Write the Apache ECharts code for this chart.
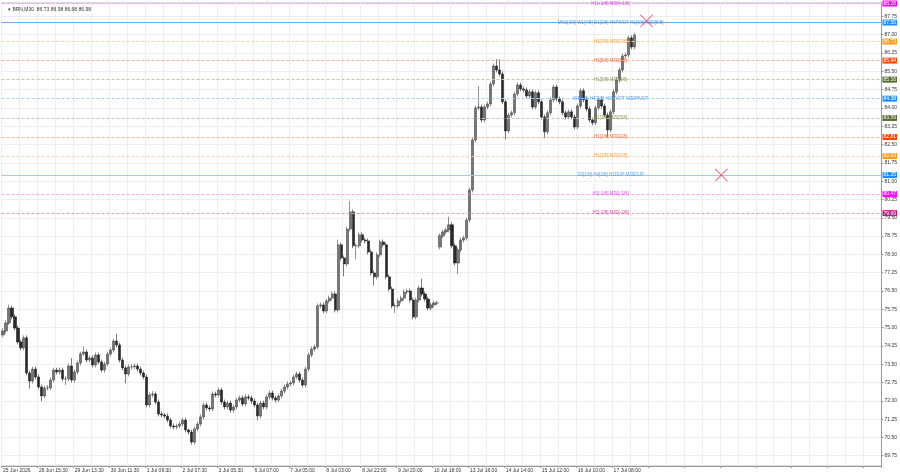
<!DOCTYPE html>
<html>
<head>
<meta charset="utf-8">
<script src="https://cdn.jsdelivr.net/npm/echarts@6/dist/echarts.min.js"></script>
<style>
  html, body { margin: 0; padding: 0; background: #fff; }
  #chart { width: 900px; height: 474px; }
</style>
</head>
<body>
<div id="chart"></div>
<script>
// BRN M30 - closes, highs, lows (about one value per 3 px)
const closes = [
  74.86, 75.19, 75.80, 75.44, 74.98, 74.41, 74.17, 74.58, 73.14, 72.81,
  73.30, 72.98, 72.57, 72.20, 72.53, 72.53, 72.85, 73.26, 73.18, 73.26,
  72.90, 72.90, 73.43, 72.85, 73.18, 73.55, 73.92, 74.00, 73.67, 73.76,
  73.47, 73.88, 73.59, 73.26, 73.51, 73.92, 74.08, 74.45, 74.29, 73.67,
  73.35, 73.10, 73.39, 73.39, 73.43, 73.30, 73.14, 72.98, 71.83, 72.24,
  72.28, 71.95, 71.46, 71.42, 71.38, 71.21, 70.97, 70.93, 70.97, 71.05,
  71.21, 70.81, 70.72, 70.31, 70.85, 71.05, 71.34, 71.83, 71.71, 71.67,
  72.28, 72.24, 72.44, 71.95, 71.75, 71.91, 71.62, 71.75, 72.03, 72.12,
  71.87, 72.16, 72.12, 71.99, 71.83, 71.38, 71.91, 71.75, 72.16, 72.32,
  72.12, 72.03, 72.20, 72.40, 72.57, 72.69, 72.73, 72.98, 73.10, 72.85,
  72.65, 73.30, 73.88, 74.12, 74.21, 75.89, 75.93, 75.68, 76.09, 76.21,
  76.38, 75.72, 78.39, 77.85, 77.61, 79.04, 79.74, 78.35, 78.35, 78.80,
  78.59, 78.55, 78.10, 77.24, 77.08, 77.98, 78.51, 78.39, 77.08, 76.58,
  75.89, 75.89, 76.09, 76.21, 76.46, 76.50, 76.13, 75.44, 76.13, 76.62,
  76.38, 76.17, 75.80, 75.93, 76.01, 76.01, 78.76, 78.92, 79.00, 79.21,
  78.35, 77.65, 78.18, 78.59, 78.67, 79.41, 80.64, 82.69, 84.00, 84.04,
  83.51, 84.04, 84.16, 84.98, 85.72, 85.56, 85.39, 84.25, 83.06, 83.71,
  83.80, 84.57, 84.94, 84.78, 84.74, 84.49, 84.66, 84.04, 84.62, 84.25,
  83.63, 83.02, 83.80, 84.33, 84.86, 84.37, 84.25, 83.80, 83.63, 83.84,
  83.63, 83.22, 84.08, 84.70, 84.33, 83.96, 83.51, 83.39, 84.00, 84.33,
  84.08, 83.71, 83.10, 83.84, 84.66, 85.15, 85.56, 86.13, 86.17, 86.87,
  86.50, 86.98
];
const highs = [
  74.98, 75.30, 75.95, 75.90, 75.54, 75.08, 74.51, 74.68, 74.68, 73.24,
  73.40, 73.40, 73.08, 72.67, 72.63, 72.65, 72.95, 73.36, 73.36, 73.36,
  73.36, 73.02, 73.53, 73.75, 73.28, 73.65, 74.02, 74.22, 74.10, 73.86,
  73.86, 73.98, 73.98, 73.69, 73.61, 74.02, 74.18, 74.55, 74.75, 74.39,
  73.77, 73.45, 73.49, 73.50, 73.53, 73.53, 73.40, 73.24, 73.08, 72.34,
  72.40, 72.38, 72.05, 71.56, 71.50, 71.48, 71.31, 71.07, 71.07, 71.15,
  71.31, 71.31, 70.85, 70.82, 70.95, 71.15, 71.44, 71.93, 71.93, 71.81,
  72.38, 72.38, 72.54, 72.54, 72.05, 72.01, 72.01, 71.85, 72.13, 72.22,
  72.22, 72.26, 72.26, 72.22, 72.09, 71.93, 72.01, 72.01, 72.26, 72.42,
  72.42, 72.22, 72.30, 72.50, 72.67, 72.79, 72.83, 73.08, 73.20, 73.20,
  72.95, 73.40, 73.98, 74.22, 74.31, 75.99, 76.03, 76.03, 76.19, 76.31,
  76.48, 76.48, 78.60, 78.49, 77.95, 79.14, 80.18, 79.84, 78.45, 78.90,
  78.90, 78.69, 78.65, 78.20, 77.34, 78.08, 78.61, 78.61, 78.49, 77.18,
  76.68, 75.99, 76.19, 76.31, 76.56, 76.60, 76.60, 76.23, 76.23, 76.72,
  77.00, 76.48, 76.27, 76.03, 76.11, 76.11, 78.86, 79.02, 79.10, 79.55,
  79.31, 78.45, 78.28, 78.69, 78.77, 79.51, 80.74, 82.79, 84.10, 84.90,
  84.14, 84.14, 84.26, 85.08, 85.82, 86.00, 86.00, 85.49, 84.35, 83.81,
  83.90, 84.67, 85.04, 85.04, 84.88, 84.84, 84.76, 84.76, 84.72, 84.72,
  84.35, 83.73, 83.90, 84.43, 84.96, 84.96, 84.47, 84.35, 83.90, 83.94,
  83.94, 83.73, 84.18, 84.80, 84.80, 84.43, 84.06, 83.61, 84.10, 84.43,
  84.43, 84.18, 83.81, 83.94, 84.76, 85.25, 85.66, 86.23, 86.27, 86.97,
  86.97, 87.08
];
const lows = [
  74.60, 74.76, 75.10, 75.34, 74.88, 74.31, 74.07, 74.07, 73.04, 72.50,
  72.71, 72.88, 72.47, 71.98, 72.10, 72.42, 72.43, 72.75, 73.08, 73.08,
  72.80, 72.65, 72.80, 72.75, 72.75, 73.08, 73.45, 73.85, 73.57, 73.57,
  73.37, 73.37, 73.49, 73.16, 73.16, 73.41, 73.82, 73.98, 74.19, 73.57,
  73.25, 72.72, 73.00, 73.28, 73.29, 73.20, 73.04, 72.88, 71.73, 71.73,
  72.14, 71.85, 71.36, 71.32, 71.28, 71.11, 70.87, 70.83, 70.83, 70.87,
  70.95, 70.71, 70.62, 70.21, 70.21, 70.75, 70.95, 71.24, 71.61, 71.57,
  71.57, 72.14, 72.14, 71.85, 71.65, 71.65, 71.52, 71.52, 71.65, 71.93,
  71.77, 71.77, 72.02, 71.89, 71.73, 71.21, 71.28, 71.65, 71.65, 72.06,
  72.02, 71.93, 71.93, 72.10, 72.30, 72.47, 72.59, 72.63, 72.88, 72.75,
  72.55, 72.55, 73.20, 73.78, 74.02, 74.11, 75.79, 75.58, 75.58, 75.99,
  76.11, 75.62, 75.62, 77.75, 77.10, 77.51, 78.94, 78.25, 77.80, 78.25,
  78.49, 78.45, 78.00, 77.14, 76.72, 76.98, 77.88, 78.29, 76.98, 76.48,
  75.79, 75.60, 75.79, 75.99, 76.11, 76.36, 76.03, 75.34, 75.34, 76.03,
  76.28, 76.07, 75.70, 75.70, 75.83, 75.91, 78.20, 78.66, 78.82, 78.90,
  78.25, 77.55, 77.20, 78.08, 78.49, 78.57, 79.31, 80.54, 82.59, 83.90,
  83.41, 83.41, 83.94, 84.06, 84.88, 85.46, 85.29, 84.15, 82.70, 82.96,
  83.61, 83.70, 84.47, 84.68, 84.64, 84.39, 84.39, 83.94, 83.94, 84.15,
  83.53, 82.75, 82.92, 83.70, 84.23, 84.27, 84.15, 83.70, 83.53, 83.53,
  83.53, 83.12, 83.12, 83.98, 84.23, 83.86, 83.41, 83.29, 83.29, 83.90,
  83.98, 83.61, 82.80, 83.00, 83.74, 84.56, 85.05, 85.46, 86.03, 86.07,
  86.40, 86.40
];
// opens follow the previous close, except the first bar and the Monday gap
const gapOpens = { 0: 74.70, 146: 78.30 };

const timeLabels = [
  '25 Jun 2026', '26 Jun 15:30', '29 Jun 13:30', '30 Jun 11:30', '1 Jul 09:30',
  '2 Jul 07:30', '3 Jul 05:30', '6 Jul 07:00', '7 Jul 05:00', '8 Jul 03:00',
  '8 Jul 22:00', '9 Jul 20:00', '10 Jul 18:00', '13 Jul 16:00', '14 Jul 14:00',
  '15 Jul 12:00', '16 Jul 10:00', '17 Jul 08:00'
];
const priceTicks = [
  69.75, 70.50, 71.25, 72.00, 72.75, 73.50, 74.25, 75.00, 75.75, 76.50, 77.25,
  78.00, 78.75, 79.50, 80.25, 81.00, 81.75, 82.50, 83.25, 84.00, 84.75, 85.50,
  86.25, 87.00, 87.75
];

// murrey levels
const levelPrices = [88.28, 87.50, 86.72, 85.94, 85.16, 84.38, 83.59, 82.81, 82.03, 81.25, 80.47, 79.69];
const levelNames = [
  'H1[+1/8] M30[+1/8]',
  'MN1[3/8] W1[7/8] D1[2/8] H4PIVOT H1[8/8] M30[8/8]',
  'H1[7/8] M30[7/8]',
  'H1[6/8] M30[6/8]',
  'H1[5/8] M30[5/8]',
  'W1[6/8] H4[3/8] H1PIVOT M30PIVOT',
  'H1[3/8] M30[3/8]',
  'H1[2/8] M30[2/8]',
  'H1[1/8] M30[1/8]',
  'D1[1/8] H4[2/8] H1DUP M30DUP',
  'H1[-1/8] M30[-1/8]',
  'H1[-2/8] M30[-2/8]'
];
const lastPrice = 86.98;
const crossMarks = [[215, 87.57], [240, 81.25]];

const levelColors = ['#ff00ff', '#1e90ff', '#ff9a1a', '#ff4500', '#556b2f', '#1e90ff',
                     '#556b2f', '#ff4500', '#ff9a1a', '#1e90ff', '#ff00ff', '#c71585'];
const lineColors = ['#f7a6f7', '#62aef2', '#fad3a0', '#f7b39a', '#c4c6ae', '#a6cff5',
                    '#c4c6ae', '#f7b39a', '#fad3a0', '#9fcbf3', '#f7a6f7', '#e2a2c6'];
const textColors = ['#e020e0', '#2a88e8', '#f08a20', '#f04a18', '#6e7a30', '#2a88e8',
                    '#6e7a30', '#f04a18', '#f08a20', '#2a88e8', '#e020e0', '#c01878'];

const NCAT = 294;
const categories = [];
for (let i = 0; i < NCAT; i++) categories.push(String(i));

const candles = closes.map((c, i) => {
  const o = gapOpens[i] !== undefined ? gapOpens[i] : closes[i - 1];
  return [o, c, lows[i], highs[i]];
});

const font = 'Liberation Sans, Arial, sans-serif';

const markData = levelPrices.map((p, i) => ({
  yAxis: p,
  lineStyle: {
    color: lineColors[i],
    width: 1,
    type: (i === 1 || i === 9) ? 'solid' : [3, 2]
  },
  label: {
    show: true,
    position: 'end',
    distance: 1,
    formatter: p.toFixed(2),
    color: '#fff',
    backgroundColor: levelColors[i],
    padding: [1, 1, 0, 1],
    fontSize: 5,
    fontFamily: font
  }
}));
markData.push({
  yAxis: lastPrice,
  lineStyle: { opacity: 0 },
  label: {
    show: true, position: 'end', distance: 1,
    formatter: lastPrice.toFixed(2),
    color: '#fff', backgroundColor: '#000',
    padding: [1, 1, 0, 1], fontSize: 5, fontFamily: font
  }
});

const levelTexts = levelPrices.map((p, i) => ({
  value: [203, p],
  label: {
    show: true,
    position: 'inside',
    formatter: levelNames[i],
    color: textColors[i],
    fontSize: 4.5,
    fontFamily: font
  }
}));

const chart = echarts.init(document.getElementById('chart'), null, { renderer: 'canvas' });

const option = {
  backgroundColor: '#fff',
  animation: false,
  title: {
    text: '\u25BE BRN,M30  86.73 86.98 86.68 86.98',
    left: 3, top: 2,
    textStyle: { fontSize: 5, fontWeight: 'normal', color: '#333', fontFamily: font }
  },
  grid: { left: 1, right: 16, top: 3, bottom: 8, show: true, borderColor: '#bbb', borderWidth: 1 },
  xAxis: {
    type: 'category',
    data: categories,
    boundaryGap: true,
    axisLine: { show: true, lineStyle: { color: '#999' } },
    axisTick: { show: true, length: 2, interval: (i) => i % 12 === 0, lineStyle: { color: '#999' } },
    axisLabel: {
      interval: (i) => i % 12 === 0,
      formatter: (v, i) => timeLabels[i / 12] || '',
      fontSize: 5, color: '#333', align: 'left', margin: 2, fontFamily: font
    },
    splitLine: { show: true, interval: (i) => i % 6 === 0, lineStyle: { color: '#eeeeee', width: 1 } }
  },
  yAxis: {
    type: 'value',
    position: 'right',
    min: 69.33,
    max: 88.30,
    scale: true,
    axisLine: { show: true, lineStyle: { color: '#999' } },
    axisTick: { show: true, length: 2, customValues: priceTicks, lineStyle: { color: '#999' } },
    axisLabel: {
      customValues: priceTicks,
      formatter: (v) => v.toFixed(2),
      fontSize: 5, color: '#333', margin: 3, fontFamily: font
    },
    splitLine: { show: true, lineStyle: { color: '#eeeeee', width: 1 } }
  },
  series: [
    {
      type: 'candlestick',
      data: candles,
      barWidth: 2.6,
      itemStyle: {
        color: '#777', color0: '#2a2a2a',
        borderColor: '#4a4a4a', borderColor0: '#222', borderWidth: 0.6
      },
      markLine: {
        silent: true,
        symbol: ['none', 'none'],
        animation: false,
        data: markData
      }
    },
    {
      type: 'scatter',
      symbolSize: 0,
      data: levelTexts,
      z: 5,
      silent: true
    },
    {
      type: 'scatter',
      data: crossMarks,
      symbol: 'path://M0,1 L1,0 L10,9 L19,0 L20,1 L11,10 L20,19 L19,20 L10,11 L1,20 L0,19 L9,10 Z',
      symbolSize: 13,
      itemStyle: { color: '#e8325a' },
      z: 6,
      silent: true
    }
  ]
};

chart.setOption(option);
</script>
</body>
</html>
